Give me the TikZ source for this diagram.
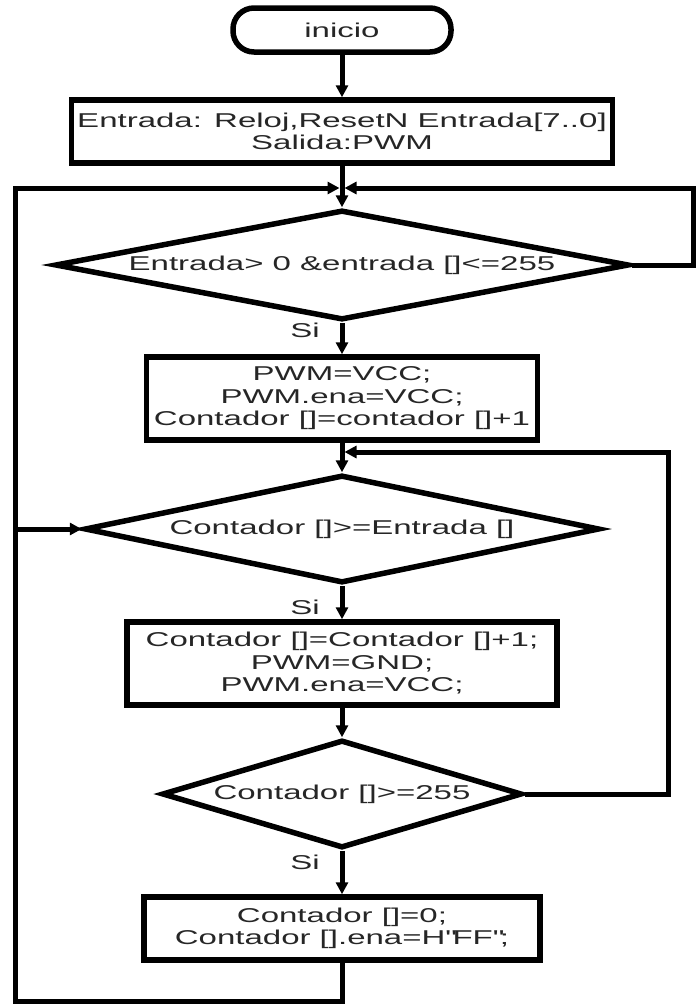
\documentclass[tikz,border=0pt]{standalone}
\usepackage{fontspec}
\setmainfont{Liberation Sans}[FakeStretch=1.65]
\usetikzlibrary{arrows.meta,shapes.geometric}

\tikzset{
  shapeline/.style={draw=black, line width=5.5pt},
  txt/.style={text=black!85, font=\fontsize{20}{22.5}\selectfont, align=center},
  terminal/.style={shapeline, txt, rectangle, rounded corners=21pt, inner sep=0pt},
  procbox/.style={shapeline, txt, rectangle, inner sep=0pt},
  decision/.style={shapeline, diamond, inner sep=0pt},
  dtext/.style={txt},
  flow/.style={draw=black, line width=5pt, -{Triangle[length=12pt,width=12pt]}},
  yes/.style={txt, inner sep=0pt}
}

\begin{document}
\begin{tikzpicture}[x=1pt, y=-1pt]
  \useasboundingbox (0,0) rectangle (696,1005);

  % start
  \node[terminal, minimum width=218pt, minimum height=44pt] (start) at (342,30) {inicio};

  % declarations
  \node[procbox, minimum width=541pt, minimum height=63pt] (io) at (342,131.5)
    {Entrada: Reloj,ResetN Entrada[7..0]\\Salida:PWM};

  % first test
  \node[decision, minimum width=574pt, minimum height=110pt] (d1) at (342,265) {};
  \node[dtext] (d1t) at (342,265) {Entrada> 0 \&entrada []<=255};

  \node[procbox, minimum width=391pt, minimum height=83pt] (b2) at (342,398.5)
    {PWM=VCC;\\PWM.ena=VCC;\\Contador []=contador []+1};

  % counter compare
  \node[decision, minimum width=515pt, minimum height=108pt] (d2) at (342,529) {};
  \node[dtext] (d2t) at (342,529) {Contador []>=Entrada []};

  \node[procbox, minimum width=430pt, minimum height=83pt] (b3) at (342,663.5)
    {Contador []=Contador []+1;\\PWM=GND;\\PWM.ena=VCC;};

  % overflow test
  \node[decision, minimum width=360pt, minimum height=108pt] (d3) at (342,794) {};
  \node[dtext] (d3t) at (342,794) {Contador []>=255};

  \node[procbox, minimum width=396pt, minimum height=63pt] (b4) at (342,928.5)
    {Contador []=0;\\Contador [].ena=H\textquotedbl FF\textquotedbl;};

  % "Si" labels
  \node[yes] (s1) at (305,330) {Si};
  \node[yes] (s2) at (305,607) {Si};
  \node[yes] (s3) at (305,862) {Si};

  % junctions and loop corners
  \coordinate (j1) at (342,188);
  \coordinate (j2) at (342,452);
  \coordinate (lt) at (15,188);
  \coordinate (lb) at (15,1001);
  \coordinate (rt) at (693,188);
  \coordinate (r2) at (668,452);

  % main flow
  \draw[flow] (start) -- (io);
  \draw[flow] (io.south) -- (d1.north);
  \draw[flow] (d1.south) -- (b2.north);
  \draw[flow] (b2.south) -- (d2.north);
  \draw[flow] (d2.south) -- (b3.north);
  \draw[flow] (b3.south) -- (d3.north);
  \draw[flow] (d3.south) -- (b4.north);

  % return from the last block
  \draw[flow, shorten >=2.5pt] (b4.south) -- (b4.south |- lb) -- (lb) -- (lt) -- (j1);
  \draw[flow] (lt |- d2.west) -- (d2.west);

  % "no" branch of the first test
  \draw[flow, shorten >=2.5pt] (d1.east) -- (d1.east -| rt) -- (rt) -- (j1);

  % "no" branch of the overflow test
  \draw[flow, shorten >=2.5pt] (d3.east) -- (d3.east -| r2) -- (r2) -- (j2);
\end{tikzpicture}
\end{document}
